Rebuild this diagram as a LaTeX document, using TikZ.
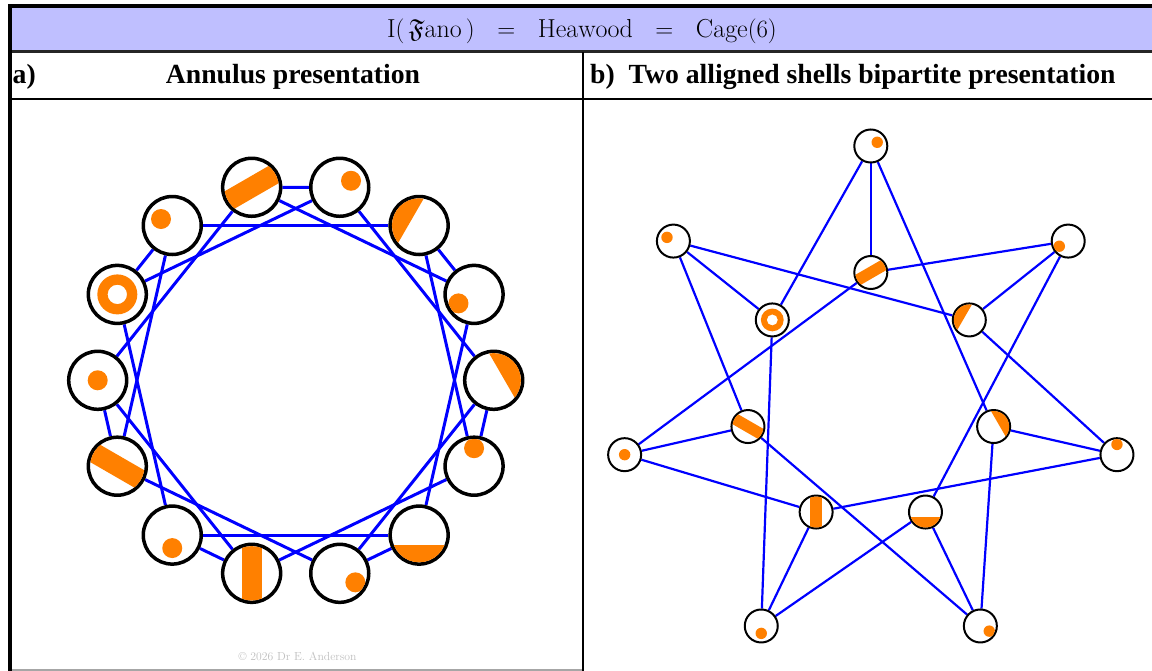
\documentclass[tikz,border=0pt]{standalone}
\usepackage{fontspec}
\usepackage{amssymb}
\usetikzlibrary{calc}
\newfontfamily\hdfont{Liberation Serif}
\definecolor{fanoorange}{RGB}{255,128,0}
\definecolor{barblue}{RGB}{191,191,255}
\pgfdeclarelayer{background}
\pgfsetlayers{background,main}
\newcommand{\fanofill}[4]{%
  \begin{scope}[shift={(#1.center)},yscale=-1,scale=#2]
    \clip (0,0) circle (27.2);
    \ifcase#3\relax
      \fill[fanoorange] (0,0) circle (10);
    \or \fill[fanoorange] (#4:13) circle (10);
    \or \fill[fanoorange] (#4:18) circle (10);
    \or \fill[fanoorange,rotate=-#4] (-40,-10) rectangle (40,10);
    \or \fill[fanoorange,rotate=-#4] (9.5,-40) rectangle (40,40);
    \or \fill[fanoorange,even odd rule] (0,0) circle (20) (0,0) circle (9.7);
    \fi
  \end{scope}}
\begin{document}
\begin{tikzpicture}[x=1pt,y=-1pt,
  bignode/.style={circle,draw=black,fill=white,line width=3.5pt,minimum size=58pt,inner sep=0pt},
  smallnode/.style={circle,draw=black,fill=white,line width=2pt,minimum size=33pt,inner sep=0pt},
  bigedge/.style={blue,line width=3pt},
  smalledge/.style={blue,line width=2.2pt},
  hdr/.style={font={\hdfont\bfseries\fontsize{27.7}{30}\selectfont},inner sep=0pt}]
\useasboundingbox (0,0) rectangle (1152,671);
% frame
\fill[barblue] (12,8) rectangle (1152,51);
\draw[line width=4pt,line join=miter] (10,671) -- (10,6) -- (1152,6);
\draw[line width=2.5pt,black!85] (12,51.7) -- (1152,51.7);
\draw[line width=2pt] (12,99) -- (1152,99);
\draw[line width=2pt] (583,52.5) -- (583,671);
\draw[line width=1.5pt,black!35] (12,670) -- (582,670);
% titles
\node[inner sep=0pt,anchor=base,font={\fontsize{26}{30}\selectfont}] (title) at (582,38)
  {$\mathrm{I}\big(\,\mathfrak{F}\mathrm{ano}\,\big)\ \ =\ \ \mathrm{Heawood}\ \ =\ \ \mathrm{Cage}(6)$};
\node[hdr,anchor=base west] (ha) at (12.5,84) {a)};
\node[hdr,anchor=base] (hA) at (293,84) {Annulus presentation};
\node[hdr,anchor=base west] (hb) at (590,84) {b)\ \ Two alligned shells bipartite presentation};
\node[text=black!25,inner sep=0pt,anchor=base,font={\fontsize{11.7}{14}\selectfont}] (copy) at (297.5,660)
  {\textcopyright\ 2026 Dr E. Anderson};
% annulus presentation
\foreach \k in {0,...,13}
  \node[bignode] (a\k) at ($(295.7,380.3)+(\k*25.7143-180:198)$) {};
\begin{pgfonlayer}{background}
\foreach \k [evaluate=\k as \j using {int(mod(\k+3,14))}] in {0,...,13}
  \draw[bigedge] (a\k) -- (a\j);
\foreach \k [evaluate=\k as \j using {int(mod(\k+1,14))}] in {1,3,...,13}
  \draw[bigedge] (a\k) -- (a\j);
\end{pgfonlayer}
\foreach \k/\t/\a in {0/0/0,1/5/0,2/1/150,3/3/30,4/1/30,5/4/150,6/2/210,7/4/30,8/2/90,9/4/270,10/2/330,11/3/90,12/1/270,13/3/150}
  \fanofill{a\k}{1}{\t}{\a};
% two shells presentation
\foreach \p in {0,...,6}{
  \node[smallnode] (o\p) at ($(870.8,398.5)+(\p*51.4286-90:252.5)$) {};
  \node[smallnode] (i\p) at ($(870.8,398.5)+(\p*51.4286-90:126)$) {};
}
\begin{pgfonlayer}{background}
\foreach \p [evaluate=\p as \q using {int(mod(\p+1,7))},evaluate=\p as \r using {int(mod(\p+5,7))}] in {0,...,6}{
  \draw[smalledge] (i\p) -- (o\p);
  \draw[smalledge] (i\p) -- (o\q);
  \draw[smalledge] (i\p) -- (o\r);
}
\end{pgfonlayer}
\foreach \p/\t/\a in {0/1/30,1/2/210,2/2/90,3/2/330,4/1/270,5/0/0,6/1/150}
  \fanofill{o\p}{0.57}{\t}{\a};
\foreach \p/\t/\a in {0/3/30,1/4/150,2/4/30,3/4/270,4/3/90,5/3/150,6/5/0}
  \fanofill{i\p}{0.57}{\t}{\a};
\end{tikzpicture}
\end{document}
